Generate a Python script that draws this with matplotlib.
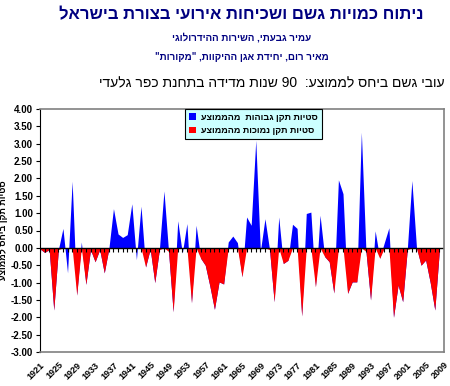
import numpy as np
import matplotlib
matplotlib.use("Agg")
import matplotlib.pyplot as plt
from matplotlib.patches import Patch


def vis(s):
    # matplotlib has no bidi support: reverse hebrew into visual order
    return s[::-1]


years = list(range(1921, 2009))
values = [-0.03, -0.13, -0.05, -1.79, -0.05, 0.56, -0.72, 1.92, -1.36, 0.17,
          -1.05, -0.05, -0.40, -0.05, -0.72, -0.02, 1.13, 0.40, 0.30, 0.38,
          1.27, -0.34, 1.20, -0.55, -0.03, -1.00, -0.05, 1.64, -0.10, -1.84,
          0.78, -0.15, 0.70, -1.58, 0.65, -0.30, -0.50, -1.10, -1.77, -0.98,
          -1.04, 0.17, 0.34, 0.15, -0.83, 0.89, 0.65, 3.10, -0.10, 0.84,
          -0.05, -1.55, 0.89, -0.45, -0.36, 0.68, 0.56, -1.96, 0.99, 1.03,
          -1.12, 0.94, -0.25, -0.40, -1.30, 1.96, 1.56, -1.31, -0.98, -0.98,
          3.33, -0.10, -1.50, 0.49, -0.30, 0.15, 0.58, -2.00, -1.07, -1.55,
          -0.05, 1.94, 0.02, -0.50, -0.35, -1.00, -1.79, -0.05]
# negative years that the original still paints in the "high" colour
blue_dip_years = [1927, 1942, 1952, 1969]
tick_years = list(range(1921, 2010, 4))
y_ticks = np.arange(-3.0, 4.01, 0.5)

title = "ניתוח כמויות גשם ושכיחות אירועי בצורת בישראל"
line2 = "עמיר גבעתי, השירות ההידרולוגי"
line3 = 'מאיר רום, יחידת אגן ההיקוות, "מקורות"'
sub_a = "עובי גשם ביחס לממוצע:"
sub_b = "שנות מדידה בתחנת כפר גלעדי"
ylab = "סטיות תקן ביחס לממוצע"
leg_hi = "סטיות תקן גבוהות  מהממוצע"
leg_lo = "סטיות תקן נמוכות מהממוצע"

BLUE = "#0000FF"
RED = "#FF0000"
NAVY = "#000080"
FAM = ["Liberation Sans", "DejaVu Sans"]
plt.rcParams["font.family"] = FAM

x = np.array(years, dtype=float)
v = np.array(values)
low = np.where(v < 0, v, 0.0)
low[np.isin(x, blue_dip_years)] = 0.0

fig = plt.figure(figsize=(4.5, 3.86), dpi=100)
ax = fig.add_axes([40 / 450, 1 - 352 / 386, 404 / 450, 243 / 386])

# whole series in blue behind, the low series in red on top
ax.fill_between(x, 0, v, color=BLUE, linewidth=0)
ax.fill_between(x, 0, low, color=RED, linewidth=0)

ax.axhline(0, color="black", linewidth=1.0)
ax.plot(x, np.zeros_like(x), linestyle="none", marker=3, markersize=3,
        color="black", markeredgewidth=0.8)

ax.set_xlim(1921, 2009)
ax.set_ylim(-3, 4)
ax.set_yticks(y_ticks)
ax.set_yticklabels(["%.2f" % t for t in y_ticks], fontsize=7, fontweight="bold")
ax.set_xticks(tick_years)
ax.set_xticklabels([str(t) for t in tick_years], rotation=45, ha="right",
                   rotation_mode="anchor", fontsize=6.5, fontweight="bold")
ax.tick_params(axis="x", length=0, pad=6)
ax.tick_params(axis="y", length=3, width=0.8, pad=2)
for s in ["top", "right", "bottom"]:
    ax.spines[s].set_color("#808080")
    ax.spines[s].set_linewidth(1.2)
ax.spines["left"].set_color("black")

ax.set_ylabel(vis(ylab), fontsize=6.5, fontweight="bold")
ax.yaxis.set_label_coords(-0.078, 0.5)

handles = [Patch(facecolor=BLUE, edgecolor="none"), Patch(facecolor=RED, edgecolor="none")]
leg = ax.legend(handles, [vis(leg_hi), vis(leg_lo)], loc="upper left",
                bbox_to_anchor=(0.359, 1.0), borderaxespad=0,
                prop={"weight": "bold", "size": 6.5}, handlelength=0.8,
                handleheight=0.8, handletextpad=0.6, fancybox=False,
                framealpha=1, borderpad=0.4, labelspacing=0.5)
leg.get_frame().set_facecolor("#CCFFFF")
leg.get_frame().set_edgecolor("black")
leg.get_frame().set_linewidth(0.8)

fig.text(241 / 450, 1 - 15 / 386, vis(title), ha="center", va="center",
         fontsize=12, fontweight="bold", color=NAVY)
fig.text(242 / 450, 1 - 38 / 386, vis(line2), ha="center", va="center",
         fontsize=7, fontweight="bold", color=NAVY)
fig.text(242 / 450, 1 - 57 / 386, vis(line3), ha="center", va="center",
         fontsize=7, fontweight="bold", color=NAVY)
fig.text(272 / 450, 1 - 83 / 386, vis(sub_b) + " 90  " + vis(sub_a),
         ha="center", va="center", fontsize=10, color="black")

fig.savefig("out.png", dpi=100)
